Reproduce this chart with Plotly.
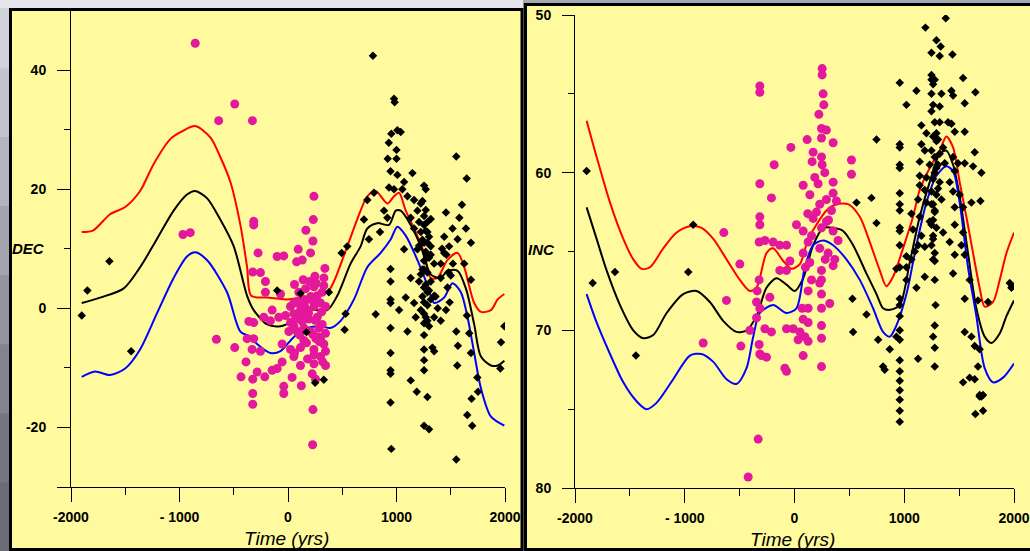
import plotly.graph_objects as go

W, H = 1030, 551
YELLOW = "#FFFA9D"
MAGENTA = "#E3189C"

# ---------------- DEC panel data ----------------
dec_red_t = [-1901, -1794, -1640, -1501, -1363, -1239, -1085, -978, -855, -716, -624, -531, -439, -377, -340,
             -192, -8, 115, 362, 423, 546, 669, 731, 808, 916, 977, 1024, 1085, 1162, 1254, 1316, 1377, 1469,
             1563, 1624, 1716, 1778, 1871, 1932, 1994]
dec_red_v = [12.8, 13.1, 15.8, 17.0, 19.7, 24.2, 28.4, 29.7, 30.6, 28.7, 25.4, 21.2, 14.0, 6.9, 2.1,
             1.8, 1.5, 1.8, 2.7, 4.5, 10.4, 16.4, 18.8, 19.7, 17.6, 18.8, 19.4, 16.4, 13.4, 9.3, 5.1, 5.1, 8.1,
             9.3, 6.9, 0.9, -0.6, -0.3, 1.5, 2.4]

dec_blk_t = [-1901, -1732, -1517, -1363, -1209, -1054, -931, -855, -747, -624, -500, -377, -316, -192, -69,
             54, 208, 362, 454, 577, 669, 731, 823, 931, 993, 1039, 1131, 1224, 1316, 1408, 1469, 1563, 1640,
             1716, 1778, 1871, 1932, 1994]
dec_blk_v = [0.9, 1.8, 3.3, 6.9, 11.6, 16.4, 19.1, 19.7, 18.5, 14.9, 10.4, 2.1, -0.3, -2.7, -3.0,
             -2.1, -0.3, -0.3, 2.1, 7.5, 10.4, 13.4, 14.3, 14.0, 16.4, 16.4, 14.0, 10.4, 5.7, 5.1, 6.3, 6.3, 3.3,
             -2.7, -8.1, -9.6, -9.6, -8.8]

dec_blu_t = [-1901, -1778, -1640, -1501, -1363, -1209, -1054, -931, -855, -747, -562, -439, -346, -285, -162,
             -69, 54, 177, 300, 392, 485, 608, 731, 854, 947, 1008, 1085, 1193, 1285, 1347, 1439, 1516, 1593,
             1655, 1716, 1778, 1871, 1994]
dec_blu_v = [-11.5, -10.6, -11.2, -10.1, -6.9, -0.9, 5.1, 8.7, 9.4, 8.1, 2.7, -3.9, -4.8, -6.0, -7.5,
             -7.2, -4.8, -3.3, -3.0, -3.3, -2.1, 1.5, 6.9, 9.3, 11.6, 13.7, 12.2, 8.1, 3.9, 0.9, 1.8, 4.2, 2.7,
             -1.5, -7.5, -13.4, -18.2, -19.7]

dec_arch_t = [-855, -491, -639, -328, -968, -901, -316, -316, 239, 233, 165, 230, -276, -100, -39, 94, 208, 79,
              131, -325, -254, -208, 248, 340, 331, -208, -69, -146, -223, -361, -316, 23, 85, 146, 54, 115, 177,
              239, 300, 269, 315, 346, 208, 146, 85, 8, -54, 54, 146, 257, 239, 346, 346, 239, 115, 223, 254, 38,
              123, -39, -39, -100, -54, -146, -214, -285, -325, -433, -387, -331, -254, -325, -325, 230, 227,
              -660, -491, -377, -316, 23, 54, 115, 300, 300, 285, 192, 115, 54, 100, 162, 239, 315, 208, 269, 346,
              23, -23, -85, -162, 200, 280, 160, 330, 60,
              70, 130, 190, 250, 310, 90, 150, 210, 270, 330, 110, 170, 230, 290, 60, 180, 240, 320, 140, 260]
dec_arch_v = [44.5, 34.3, 31.5, 31.5, 12.4, 12.7, 14.6, 14.0, 18.8, 14.9, 13.1, 11.3, 9.3, 8.7, 8.8, 9.9, 9.3,
              7.8, 8.1, 6.1, 6.0, 4.5, 5.4, 6.7, 5.1, 2.7, 2.4, -0.3, -1.5, -2.2, -2.4, 0.3, 0.9, 1.5, -0.9, -1.5,
              -0.3, 0.3, 0.9, -1.5, -2.7, -4.2, -3.9, -3.3, -3.9, -3.9, -6.0, -3.0, -5.4, -5.1, -6.9, -7.2, -9.6,
              -9.3, -9.6, -11.0, -11.9, -11.6, -13.0, -13.1, -14.3, -10.1, -9.0, -10.4, -11.5, -10.7, -11.9,
              -11.5, -9.0, -6.9, -7.2, -14.3, -16.1, -17.0, -22.9, -5.2, -6.6, -5.1, -5.1, -6.9, -8.1, -6.6, -8.1,
              -5.1, -3.3, -1.8, -0.3, 0.9, 2.7, 3.3, 3.6, 2.7, 1.5, 2.1, 0.3, -2.4, -1.2, -1.5, -2.1, 4.5, -4.8,
              -1.0, -6.0, 4.0,
              -1.8, -2.2, -0.8, -2.0, -0.6, 1.2, 0.6, 2.0, 1.0, 3.8, -4.5, -5.8, -4.4, -5.6, -7.5, -8.5, -7.8,
              -9.0, 4.8, 4.2]

dec_lake_t = [-1901, -1849, -1646, -1446, 783, 977, 983, 952, 1008, 1039, 929, 1000, 919, 1000, 945, 1008, 1070,
              1147, 931, 977, 1054, 1254, 1270, 1551, 1647, 1101, 1162, 1224, 1193, 1131, 1456, 1579, 1603, 1516,
              1640, 1563, 1686, 1162, 1224, 1285, 1254, 1316, 1193, 1070, 1285, 1347, 1408, 1439, 1485, 1624,
              1686, 1131, 1224, 1316, 1408, 1285, 1347, 1085, 1162, 1224, 1254, 1285, 1347, 1408, 1456, 1177,
              1101, 945, 945, 945, 945, 1024, 945, 945, 945, 945, 945, 952, 1131, 1187, 1285, 1254, 1254, 1254,
              1254, 1331, 1347, 1254, 1300, 1551, 1551, 1566, 1560, 1652, 1698, 1692, 1751, 1745, 1686, 1670,
              1649, 1963, 1957, 1994, 531, 522, 546, 494, 377, 700, 746, 808, 848, 792, 731, 885, 916,
              1254, 1254, 1254, 1254, 1254, 1254, 1254, 1270, 1270, 1270, 1270, 1270, 1285, 1285, 1285, 1285,
              1300, 1300, 1300, 1300, 1316, 1316, 1316, 1239, 1239, 1239, 1239, 1208, 1208, 1208, 1440, 1460,
              1480, 1500, 1520, 1470, 1490, 1420, 1380, 1360, 115, 250, 330, -100, 170]
dec_lake_v = [-1.2, 3.0, 7.9, -7.2, 42.4, 35.2, 34.6, 29.3, 29.9, 29.6, 27.8, 26.6, 25.1, 25.1, 23.0, 22.4, 21.2,
              22.7, 20.3, 20.0, 20.0, 20.6, 20.0, 25.5, 21.8, 18.8, 18.2, 17.6, 16.4, 15.2, 16.1, 15.2, 17.4, 13.4,
              13.4, 11.6, 11.0, 13.4, 12.8, 12.8, 11.0, 10.4, 9.9, 9.9, 8.7, 7.5, 7.5, 9.3, 10.4, 7.5, 4.8, 5.1,
              5.7, 4.5, 5.1, 2.7, 2.1, 1.8, 0.9, -0.3, -0.9, -2.1, -1.5, -2.1, -0.3, -1.5, -3.9, 6.6, 4.5, 1.5,
              0.9, -0.3, -3.3, -7.5, -10.4, -11.0, -15.8, -23.6, -12.1, -14.0, -14.9, -10.4, -8.7, -6.9, -4.5,
              -6.6, -7.2, -19.7, -20.3, -25.4, -3.9, -6.3, -9.6, -17.9, -19.7, -15.2, -14.0, -11.6, -7.5, -4.2,
              -1.2, -5.7, -10.1, -3.0, -0.9, -3.6, 10.4, 9.3, 2.7, 14.9, 11.6, -1.0, 12.8, 19.4, 18.2, 16.4, 15.2,
              15.5, 14.0, 8.0, 6.5, 3.5, 1.0, -2.5, 16.5, 13.0, 9.5, 4.0, -1.5, 14.5, 11.0, 6.0, 0.5,
              12.0, 8.5, 3.0, -3.0, 15.0, 9.0, 1.5, 18.0, 11.5, 6.5, 2.0, 14.5, 10.5, 4.5, 12.0, 9.0,
              6.0, 5.5, 7.5, 3.5, 1.0, 10.0, 0.0, 2.0, 2.5, -12.5, -12.0, 3.0, -4.0]

# ---------------- INC panel data ----------------
inc_red_t = [-1894, -1803, -1681, -1560, -1469, -1393, -1317, -1196, -1074, -953, -847, -740, -619, -498, -407,
             -346, -255, -195, -103, -27, 49, 125, 200, 291, 382, 489, 595, 686, 777, 837, 898, 989, 1080, 1141,
             1232, 1323, 1384, 1445, 1505, 1566, 1627, 1687, 1733, 1809, 1870, 1931, 2000]
inc_red_v = [56.7, 59.0, 61.9, 64.2, 65.5, 66.1, 66.0, 64.8, 63.8, 63.4, 63.5, 64.2, 65.5, 66.8, 67.5,
             67.3, 65.1, 64.8, 65.6, 66.1, 65.8, 64.2, 63.3, 62.4, 62.0, 62.0, 62.8, 64.4, 66.2, 67.2, 66.6, 64.8,
             62.8, 61.1, 59.7, 58.6, 57.7, 58.4, 60.6, 62.8, 65.1, 67.3, 68.5, 68.2, 66.8, 65.1, 63.8]

inc_blk_t = [-1894, -1803, -1712, -1590, -1469, -1378, -1287, -1165, -1014, -893, -771, -650, -528, -437, -346,
             -255, -164, -73, 3, 79, 170, 261, 352, 443, 534, 656, 747, 807, 868, 959, 1050, 1141, 1232, 1323,
             1384, 1445, 1505, 1581, 1657, 1733, 1794, 1870, 1931, 2000]
inc_blk_v = [62.2, 64.2, 66.2, 68.4, 70.0, 70.5, 70.3, 68.9, 67.7, 67.5, 68.2, 69.4, 70.1, 70.0, 69.1,
             67.3, 66.7, 67.1, 67.5, 66.7, 64.6, 63.5, 63.5, 63.7, 64.6, 66.4, 67.7, 68.6, 68.7, 68.4, 65.7, 62.8,
             60.6, 58.8, 58.6, 59.5, 61.5, 65.1, 68.6, 70.4, 70.8, 70.2, 69.1, 68.1]

inc_blu_t = [-1894, -1803, -1681, -1560, -1439, -1348, -1257, -1105, -953, -847, -740, -619, -528, -437, -376,
             -316, -195, -73, 18, 94, 170, 261, 352, 473, 595, 716, 807, 868, 928, 1020, 1111, 1202, 1293, 1384,
             1445, 1505, 1581, 1657, 1733, 1809, 1900, 2000]
inc_blu_v = [67.7, 69.5, 71.5, 73.3, 74.5, 75.0, 74.6, 73.1, 71.6, 71.5, 72.0, 73.1, 73.4, 72.4, 70.4,
             68.9, 68.4, 68.9, 68.6, 66.0, 64.6, 64.3, 64.6, 65.5, 66.8, 68.6, 70.1, 70.4, 69.7, 67.7, 64.6, 61.9,
             60.2, 59.6, 59.9, 61.9, 66.0, 69.1, 72.4, 73.3, 73.0, 72.1]

inc_arch_t = [-316, -316, 252, 252, 261, 267, 222, 246, 291, 246, 352, 115, -33, 170, 246, 161, 252, -185, 519,
              519, -316, -210, 276, 185, 215, 352, 79, 140, 352, 291, 230, 382, 337, 121, 170, -316, -316, 18, 79,
              155, 246, 291, 352, 397, -644, -322, -270, -195, -134, -73, 124, 230, 306, 367, -498, -134, -73,
              -42, 79, 140, 246, 352, 155, 246, -322, -340, -346, -225, -620, 124, 246, 124, 246, 321, 70, 79,
              -346, -316, -270, -210, -73, -12, 49, 124, 246, 246, 94, 124, 33, -407, -832, -489, -322, -316,
              -301, -255, 79, 246, -88, -73, -331, -422, 200, 280, 310, 100, 230]
inc_arch_v = [54.5, 54.9, 53.4, 53.8, 55.0, 55.7, 56.3, 57.2, 57.3, 57.8, 58.1, 57.9, 58.4, 58.7, 59.0, 59.3,
              59.5, 59.5, 59.2, 60.1, 60.7, 61.6, 60.0, 60.3, 60.7, 60.6, 60.8, 61.4, 61.3, 61.7, 62.0, 61.8,
              62.4, 62.6, 62.9, 62.8, 63.3, 63.3, 63.7, 64.0, 63.5, 63.1, 63.7, 64.3, 63.8, 64.4, 64.3, 64.4,
              64.6, 64.6, 64.4, 64.8, 65.1, 65.5, 65.8, 66.2, 66.2, 65.6, 65.1, 65.7, 66.2, 65.9, 66.8, 66.8,
              66.8, 67.5, 68.2, 67.9, 68.1, 67.5, 67.7, 68.6, 68.6, 68.3, 68.6, 69.3, 69.2, 68.6, 69.9, 70.1,
              69.9, 69.9, 70.1, 69.5, 69.7, 70.5, 70.4, 70.7, 70.6, 70.0, 70.8, 71.0, 70.9, 71.5, 71.6, 71.7,
              71.6, 72.3, 72.4, 72.6, 76.9, 79.3, 62.5, 65.5, 63.0, 66.0, 67.0]

inc_lake_t = [-1894, -1839, -1636, -1445, -923, -968, 747, 701, 747, 959, 959, 959, 959, 959, 959, 959, 959, 959,
              959, 959, 959, 959, 959, 959, 959, 959, 959, 959, 959, 959, 959, 959, 959, 928, 807, 822, 868,
              762, 656, 528, 534, 565, 1020, 1111, 1193, 1378, 1248, 1293, 1332, 1323, 1439, 1248, 1248, 1263,
              1278, 1430, 1536, 1648, 1248, 1339, 1445, 1551, 1263, 1323, 1248, 1278, 1323, 1399, 1430, 1460,
              1551, 1156, 1202, 1263, 1308, 1354, 1156, 1187, 1248, 1323, 1369, 1642, 1445, 1490, 1460, 1551,
              1627, 1703, 1141, 1232, 1293, 1141, 1202, 1263, 1323, 1141, 1187, 1248, 1293, 1339, 1414, 1445,
              1505, 1126, 1202, 1278, 1612, 1694, 1460, 1536, 1065, 1141, 1232, 1293, 1354, 1460, 1536, 1080,
              1156, 1263, 1414, 1521, 1126, 1187, 1278, 1096, 1460, 1551, 1065, 1278, 1445, 1020, 1020, 928,
              1187, 1278, 1596, 1020, 1111, 1285, 1551, 1672, 1763, 1278, 1263, 1278, 1278, 1126, 1551, 1612,
              1642, 1687, 1672, 1596, 1642, 1536, 1687, 1718, 1703, 1718, 1648, 1687, 1961, 1976, 1985,
              1263, 1263, 1263, 1263, 1278, 1278, 1278, 1293, 1293, 1248, 1248, 1248, 1308, 1308]
inc_lake_v = [59.9, 67.0, 66.3, 71.6, 63.3, 66.3, 57.9, 61.6, 63.2, 54.3, 58.2, 58.4, 59.5, 59.7, 61.3, 62.0,
              62.4, 63.5, 63.7, 64.6, 66.0, 68.0, 68.4, 69.1, 70.0, 70.6, 71.9, 72.6, 73.2, 73.8, 74.4, 75.1,
              75.8, 70.4, 72.3, 72.5, 71.2, 70.6, 69.0, 68.0, 70.1, 61.9, 55.7, 54.8, 50.8, 50.2, 52.4, 51.6,
              52.0, 52.6, 52.5, 53.8, 54.1, 54.4, 54.1, 54.8, 54.0, 54.9, 55.0, 55.0, 55.1, 55.6, 55.7, 55.8,
              56.1, 56.8, 56.8, 56.8, 56.9, 57.4, 57.4, 57.0, 57.5, 57.7, 57.9, 58.4, 58.2, 58.6, 58.6, 58.8,
              59.4, 58.7, 59.0, 59.4, 59.9, 59.4, 59.6, 60.0, 59.3, 59.5, 59.7, 60.2, 60.3, 60.4, 60.6, 60.8,
              61.1, 61.2, 61.4, 61.7, 60.6, 61.2, 61.4, 61.7, 61.9, 62.4, 61.9, 61.8, 62.2, 62.2, 62.6, 62.8,
              63.1, 63.5, 63.8, 63.3, 63.8, 63.6, 64.0, 64.2, 64.4, 64.6, 64.6, 64.7, 65.1, 65.0, 65.2, 65.2,
              65.5, 65.6, 66.4, 65.3, 66.0, 66.1, 66.6, 66.8, 66.8, 66.8, 67.3, 68.4, 68.0, 68.1, 68.2, 69.7,
              70.4, 71.1, 72.3, 71.8, 70.1, 70.4, 71.0, 71.2, 72.3, 73.0, 73.1, 73.3, 74.1, 74.1, 74.2, 75.1,
              75.3, 74.2, 67.0, 67.3, 67.2,
              62.0, 63.0, 64.0, 65.5, 59.0, 60.0, 62.5, 57.5, 58.0, 62.0, 63.3, 64.6, 59.5, 61.0]

# ---------------- axis ticks ----------------
time_ticks = [-2000, -1000, 0, 1000, 2000]
time_ticktext = ["-2000", "- 1000", "0", "1000", "2000"]
time_minor = [-1500, -500, 500, 1500]
dec_ticks = [-30, -20, 0, 20, 40]
dec_ticktext = ["", "-20", "0", "20", "40"]
dec_minor = [-10, 10, 30]
inc_ticks = [50, 60, 70, 80]
inc_ticktext = ["50", "60", "70", "80"]
inc_minor = [55, 65, 75]


def px(x):
    return x / W


def py(y):
    return 1 - y / H


fig = go.Figure()

for xa, ya, curves in [
    ("x", "y", [(dec_red_t, dec_red_v, "#FF0000"), (dec_blk_t, dec_blk_v, "#000000"), (dec_blu_t, dec_blu_v, "#0000FF")]),
    ("x2", "y2", [(inc_red_t, inc_red_v, "#FF0000"), (inc_blk_t, inc_blk_v, "#000000"), (inc_blu_t, inc_blu_v, "#0000FF")]),
]:
    for t, v, c in curves:
        fig.add_trace(go.Scatter(x=t, y=v, mode="lines", line=dict(color=c, width=2, shape="spline", smoothing=0.8),
                                 xaxis=xa, yaxis=ya, showlegend=False, hoverinfo="skip"))

fig.add_trace(go.Scatter(x=dec_arch_t, y=dec_arch_v, mode="markers", xaxis="x", yaxis="y", showlegend=False,
                         marker=dict(color=MAGENTA, size=9, line=dict(width=0))))
fig.add_trace(go.Scatter(x=inc_arch_t, y=inc_arch_v, mode="markers", xaxis="x2", yaxis="y2", showlegend=False,
                         marker=dict(color=MAGENTA, size=9, line=dict(width=0))))
fig.add_trace(go.Scatter(x=dec_lake_t, y=dec_lake_v, mode="markers", xaxis="x", yaxis="y", showlegend=False,
                         marker=dict(color="black", size=6.5, symbol="diamond", line=dict(width=0))))
fig.add_trace(go.Scatter(x=inc_lake_t, y=inc_lake_v, mode="markers", xaxis="x2", yaxis="y2", showlegend=False,
                         marker=dict(color="black", size=6.5, symbol="diamond", line=dict(width=0))))

tickfont = dict(family="Liberation Sans, Arial, sans-serif", size=14, color="black", weight="bold")

common_x = dict(range=[-2000, 2000], tickmode="array", tickvals=time_ticks, ticktext=time_ticktext,
                ticks="outside", ticklen=14, tickwidth=1, tickcolor="black", showline=True, linecolor="black",
                linewidth=1, showgrid=False, zeroline=False, tickfont=tickfont, automargin=False,
                ticklabelstandoff=3,
                minor=dict(tickvals=time_minor, ticks="outside", ticklen=7, tickcolor="black", tickwidth=1,
                           showgrid=False))

fig.update_layout(
    width=W, height=H, margin=dict(l=0, r=0, t=0, b=0),
    paper_bgcolor="#8e8e96", plot_bgcolor="rgba(0,0,0,0)",
    xaxis=dict(domain=[px(71), px(505)], anchor="y", **common_x),
    yaxis=dict(domain=[py(487), py(10.5)], anchor="x", range=[-30, 50], tickmode="array", tickvals=dec_ticks,
               ticktext=dec_ticktext, ticks="outside", ticklen=13, tickwidth=1, tickcolor="black", showline=True,
               linecolor="black", linewidth=1, showgrid=False, zeroline=False, tickfont=tickfont,
               automargin=False, ticklabelstandoff=8,
               minor=dict(tickvals=dec_minor, ticks="outside", ticklen=6, tickcolor="black", tickwidth=1,
                          showgrid=False)),
    xaxis2=dict(domain=[px(575), px(1014)], anchor="y2", **common_x),
    yaxis2=dict(domain=[py(488), py(15)], anchor="x2", range=[80, 50], tickmode="array", tickvals=inc_ticks,
                ticktext=inc_ticktext, ticks="outside", ticklen=12, tickwidth=1, tickcolor="black",
                showline=True, linecolor="black", linewidth=1, showgrid=False, zeroline=False,
                tickfont=tickfont, automargin=False, ticklabelstandoff=8,
                minor=dict(tickvals=inc_minor, ticks="outside", ticklen=6, tickcolor="black", tickwidth=1,
                           showgrid=False)),
)

shapes = []
grays = ["#d2d2da", "#c4c4cc", "#b4b4bc", "#a4a4ac", "#94949c", "#84848c", "#76767e", "#6c6c74"]
n = len(grays)
for i, g in enumerate(grays):
    shapes.append(dict(type="rect", xref="paper", yref="paper", x0=0, x1=px(10),
                       y0=py(H * (i + 1) / n), y1=py(H * i / n), fillcolor=g, line=dict(width=0), layer="below"))
shapes.append(dict(type="rect", xref="paper", yref="paper", x0=px(0), x1=px(523), y0=py(8), y1=1,
                   fillcolor="#e6e6ec", line=dict(width=0), layer="below"))
shapes.append(dict(type="rect", xref="paper", yref="paper", x0=px(523), x1=1, y0=py(3), y1=1,
                   fillcolor="#a8a8b0", line=dict(width=0), layer="below"))
shapes.append(dict(type="rect", xref="paper", yref="paper", x0=px(10.5), x1=px(522), y0=py(549.5), y1=py(9.5),
                   fillcolor=YELLOW, line=dict(color="black", width=3), layer="below"))
shapes.append(dict(type="rect", xref="paper", yref="paper", x0=px(525.5), x1=px(1040), y0=py(549.5), y1=py(4.5),
                   fillcolor=YELLOW, line=dict(color="black", width=3), layer="below"))
fig.update_layout(shapes=shapes)

title_font = dict(family="Liberation Sans, Arial, sans-serif", size=19, color="black", style="italic")
lab_font = dict(family="Liberation Sans, Arial, sans-serif", size=15, color="black", style="italic",
                weight="bold")
annos = [
    dict(text="Time (yrs)", x=px(286), y=py(538), font=title_font),
    dict(text="Time (yrs)", x=px(792), y=py(539), font=title_font),
    dict(text="DEC", x=px(28), y=py(248), font=lab_font),
    dict(text="INC", x=px(541), y=py(250), font=lab_font),
]
for a in annos:
    fig.add_annotation(xref="paper", yref="paper", showarrow=False, xanchor="center", yanchor="middle", **a)

fig.write_html("out.html", config={"displayModeBar": False},
               post_script="document.body.style.margin='0';document.body.style.overflow='hidden';")
